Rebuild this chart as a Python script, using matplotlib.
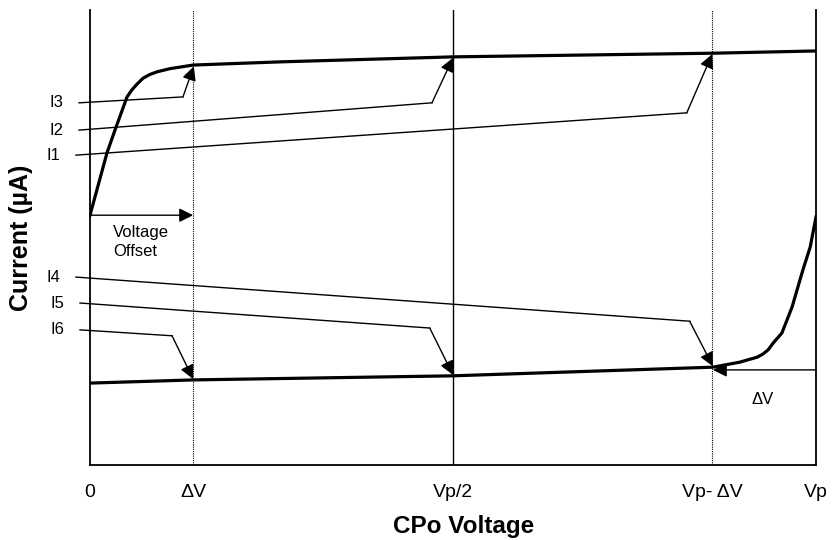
import numpy as np
import matplotlib.pyplot as plt

plt.rcParams['font.family'] = ['Liberation Sans', 'DejaVu Sans']

# -----------------------------
# Curve data (voltage as fraction of Vp, current in arbitrary units)
# -----------------------------
dV = 0.142
tick_pos = [0.0, dV, 0.5, 0.857, 1.0]
tick_labels = ["0", "ΔV", "Vp/2", "Vp- ΔV", "Vp"]

upper_v = [0.0, 0.0234, 0.0344, 0.051, 0.058, 0.0647, 0.073, 0.082, 0.092,
           0.11, 0.142, 0.262, 0.5, 0.857, 1.0]
upper_i = [54.9, 68.6, 73.6, 80.9, 82.5, 83.7, 85.0, 85.8, 86.4,
           87.1, 87.9, 88.6, 89.7, 90.5, 91.0]

lower_v = [0.0, 0.142, 0.5, 0.858, 0.895, 0.919, 0.927, 0.934, 0.941, 0.953,
           0.967, 0.982, 0.992, 1.0]
lower_i = [18.0, 18.7, 19.6, 21.5, 22.6, 23.7, 24.4, 25.3, 26.8, 29.0,
           34.7, 42.9, 47.9, 54.5]

# callouts: label, (label x, y), bend point, arrow tip
callout_names = ["I3", "I2", "I1", "I4", "I5", "I6"]
callout_start = [(-0.0152, 79.6), (-0.0152, 73.6), (-0.0193, 68.1),
                 (-0.0193, 41.3), (-0.0138, 35.6), (-0.0138, 29.7)]
callout_bend = [(0.128, 80.9), (0.471, 79.6), (0.822, 77.4),
                (0.826, 31.6), (0.468, 30.1), (0.113, 28.4)]
callout_tip = [(0.143, 87.6), (0.5, 89.5), (0.857, 90.3),
               (0.858, 21.7), (0.5, 19.8), (0.142, 18.9)]

# -----------------------------
# Plot
# -----------------------------
fig = plt.figure(figsize=(8.34, 5.4), dpi=100)
ax = fig.add_axes([90 / 834, 75 / 540, 726 / 834, 455 / 540])
ax.set_xlim(0, 1)
ax.set_ylim(0, 100)

ax.plot(upper_v, upper_i, color="black", lw=2.3, solid_joinstyle="round")
ax.plot(lower_v, lower_i, color="black", lw=2.3, solid_joinstyle="round")

ax.axvline(dV, color="black", ls=(0, (1, 1)), lw=0.8)
ax.axvline(0.857, color="black", ls=(0, (1, 1)), lw=0.8)
ax.axvline(0.5, color="black", lw=1.0)

arrow = dict(arrowstyle="-|>", color="black", lw=1.0, mutation_scale=21,
             shrinkA=0, shrinkB=0)

for name, s, b, t in zip(callout_names, callout_start, callout_bend, callout_tip):
    ax.plot([s[0], b[0]], [s[1], b[1]], color="black", lw=1.0, clip_on=False)
    ax.annotate("", xy=t, xytext=b, arrowprops=arrow, annotation_clip=False)
    ax.text(s[0] - 0.0315, s[1], name, fontsize=12, ha="center", va="center",
            clip_on=False)

# voltage offset arrow
ax.annotate("", xy=(dV, 54.9), xytext=(0.0, 54.9), arrowprops=arrow)
ax.text(0.032, 49.0, "Voltage\nOffset", fontsize=12, ha="left", va="center",
        linespacing=1.3)

# delta V arrow near Vp
ax.annotate("", xy=(0.858, 20.9), xytext=(1.0, 20.9), arrowprops=arrow)
ax.text(0.926, 14.3, "ΔV", fontsize=12, ha="center", va="center")

# axes styling
ax.spines["top"].set_visible(False)
for sp in ["left", "right", "bottom"]:
    ax.spines[sp].set_linewidth(1.3)
ax.set_yticks([])
ax.set_xticks(tick_pos)
ax.set_xticklabels(tick_labels, fontsize=14)
ax.tick_params(axis="x", length=0, pad=14)

ax.set_xlabel("CPo Voltage", fontsize=17.5, fontweight="bold")
ax.xaxis.set_label_coords(0.515, -0.11)
ax.set_ylabel("Current (µA)", fontsize=18, fontweight="bold")
ax.yaxis.set_label_coords(-0.078, 0.5)

plt.savefig("out.png", dpi=100)
